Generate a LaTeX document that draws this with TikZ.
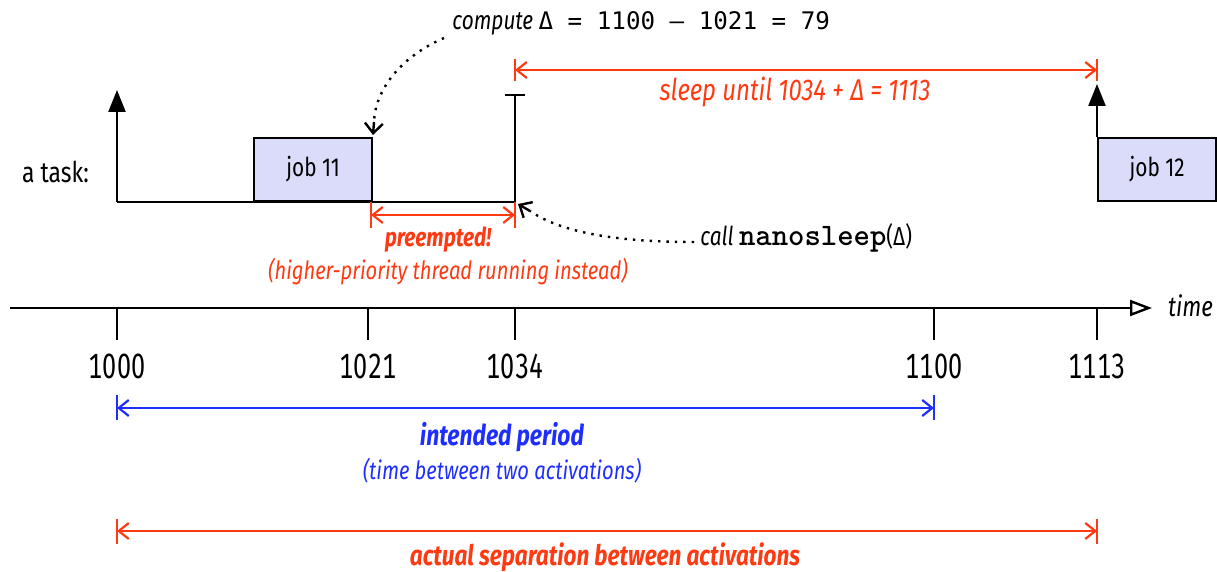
\documentclass[tikz,border=0pt]{standalone}
\usepackage{fontspec}
\setmainfont{Fira Sans}[FakeStretch=0.8]
\newfontfamily\tickfont{Fira Sans}[FakeStretch=0.72, Numbers=Monospaced]
\newfontfamily\monosans{DejaVu Sans Mono}
\usetikzlibrary{arrows.meta}
\definecolor{redx}{HTML}{FF3A12}
\definecolor{bluex}{HTML}{1E2EFF}
\definecolor{jobfill}{HTML}{DADCFA}
\begin{document}
\begin{tikzpicture}[x=0.5pt,y=-0.5pt,
  font=\fontsize{13}{16}\selectfont,
  blk/.style={line width=1.2pt, black},
  jobbox/.style={draw, line width=1.2pt, fill=jobfill, anchor=south west,
    minimum width=59pt, minimum height=31.5pt, inner sep=0pt},
  uparrow/.style={blk, -{Triangle[length=11pt,width=8.5pt]}},
  redarr/.style={line width=1.1pt, redx, {Straight Barb[length=5pt,width=8pt]}-{Straight Barb[length=5pt,width=8pt]}},
  bluearr/.style={line width=1.1pt, bluex, {Straight Barb[length=5pt,width=8pt]}-{Straight Barb[length=5pt,width=8pt]}},
  redbar/.style={line width=1.1pt, redx},
  bluebar/.style={line width=1.1pt, bluex},
  dotline/.style={line width=1.2pt, dash pattern=on 1.2pt off 3pt},
  dottip/.style={line width=1.2pt, solid, -{Straight Barb[length=5pt,width=9pt]}},
  ticklab/.style={font=\tickfont\fontsize{17.5}{20}\selectfont},
  itsmall/.style={font=\fontsize{12.6}{15}\selectfont\itshape},
]
\useasboundingbox (0,0) rectangle (1217,572);

% time axis
\coordinate (axL) at (10,308);
\coordinate (axR) at (1152,308);
\draw[blk, -{Triangle[open,length=11pt,width=8pt]}] (axL) -- (axR);
\node[anchor=west, font=\fontsize{14}{17}\selectfont\itshape] (time) at (1161,306) {time};

\foreach \x/\n in {117/1000, 368/1021, 515/1034, 934/1100, 1097/1113}{
  \coordinate (tk\n) at (\x,308);
  \coordinate (tb\n) at (\x,340);
  \draw[blk] (tk\n) -- (tb\n);
  \node[ticklab] (lab\n) at (\x,366) {\n};
}

% task timeline
\node[anchor=west, font=\fontsize{14.3}{17}\selectfont] (task) at (15,172) {a task:};
\coordinate (b0) at (117,202);
\coordinate (b1) at (515,202);
\coordinate (a0) at (117,90);
\draw[blk] (b0) -- (b1);
\draw[uparrow] (b0) -- (a0);
\node[jobbox] (job11) at (253,202) {job 11};
\node[jobbox] (job12) at (1097,202) {job 12};
\coordinate (a1) at (1097,84);
\draw[uparrow] (job12.north west) -- (a1);
\coordinate (tTop) at (515,95);
\coordinate (tL) at (505,95);
\coordinate (tR) at (525,95);
\draw[blk] (b1) -- (tTop);
\draw[blk] (tL) -- (tR);

% sleep arrow
\coordinate (s0) at (515,70);
\coordinate (s1) at (1097,70);
\draw[redbar] (515,59) -- (515,81);
\draw[redbar] (1097,59) -- (1097,81);
\draw[redarr] (s0) -- (s1);
\node[redx, font=\fontsize{15}{17}\selectfont\itshape] (sleep) at (795,92) {sleep until 1034 + Δ = 1113};

% preempted arrow
\coordinate (p0) at (371,215);
\coordinate (p1) at (515,215);
\draw[redbar] (371,202) -- (371,228);
\draw[redbar] (515,202) -- (515,228);
\draw[redarr] (p0) -- (p1);
\node[redx, font=\fontsize{13}{16}\selectfont\bfseries\itshape] (pre) at (438,240) {preempted!};
\node[redx, itsmall] (hp) at (448,272) {(higher-priority thread running instead)};

% compute annotation
\node[anchor=base west, inner sep=0pt] (compute) at (452,30)
  {\itshape compute \upshape{\monosans\fontsize{12.1}{14}\selectfont Δ = 1100 – 1021 = 79}};
\coordinate (cS) at (444,38);
\coordinate (cM) at (374,122);
\coordinate (cE) at (373,135);
\draw[dotline] (cS) .. controls (398,58) and (375,92) .. (cM);
\draw[dottip] (cM) -- (cE);

% call annotation
\node[anchor=base west, inner sep=0pt] (call) at (700,246)
  {\itshape call \upshape{\ttfamily\bfseries\fontsize{15.6}{18}\selectfont nanosleep}(Δ)};
\coordinate (kS) at (694,242);
\coordinate (kM) at (530,211);
\coordinate (kE) at (518,204);
\draw[dotline] (kS) .. controls (600,242) and (555,228) .. (kM);
\draw[dottip] (kM) -- (kE);

% intended period
\coordinate (i0) at (117,408);
\coordinate (i1) at (934,408);
\draw[bluebar] (117,395) -- (117,420);
\draw[bluebar] (934,395) -- (934,420);
\draw[bluearr] (i0) -- (i1);
\node[bluex, font=\fontsize{14.3}{17}\selectfont\bfseries\itshape] (ip) at (502,437) {intended period};
\node[bluex, itsmall] (tb) at (502,471) {(time between two activations)};

% actual separation
\coordinate (r0) at (117,531);
\coordinate (r1) at (1097,531);
\draw[redbar] (117,519) -- (117,544);
\draw[redbar] (1097,519) -- (1097,544);
\draw[redarr] (r0) -- (r1);
\node[redx, font=\fontsize{14.1}{17}\selectfont\bfseries\itshape] (as) at (605,557) {actual separation between activations};
\end{tikzpicture}
\end{document}
